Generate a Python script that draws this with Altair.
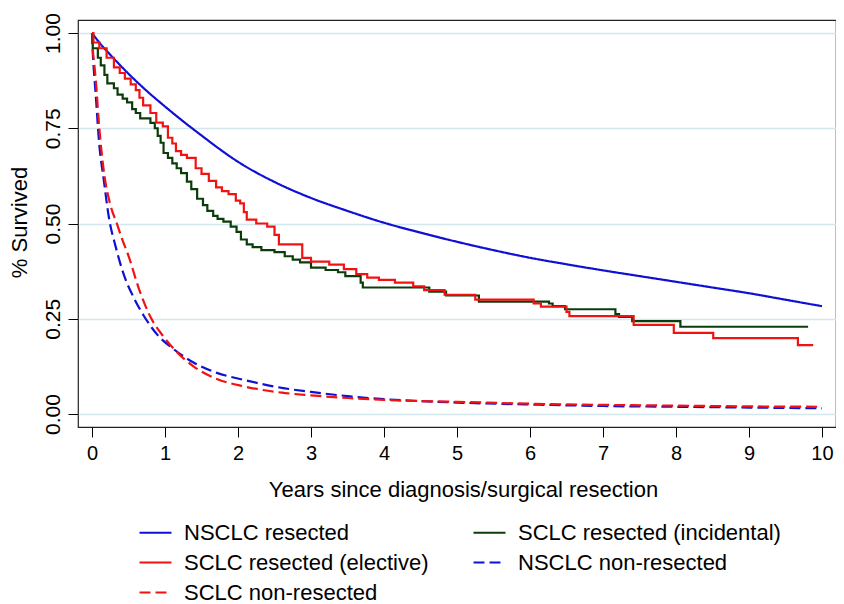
import altair as alt
import pandas as pd

FONT = "Liberation Sans, Arial, sans-serif"

SERIES = ["NSCLC resected", "SCLC resected (incidental)", "SCLC resected (elective)",
          "NSCLC non-resected", "SCLC non-resected"]
COLORS = ["#1010d4", "#0b3d0b", "#f21212", "#1010d4", "#f21212"]
DASHES = [[1, 0], [1, 0], [1, 0], [11, 5], [11, 5]]
# legend is filled column by column: reorder so rows read like the reference
LEGEND_ORDER = [0, 2, 4, 1, 3]

X_TICKS = list(range(0, 11))
Y_TICKS = [0.0, 0.25, 0.5, 0.75, 1.0]

# NSCLC resected (smooth KM)
nsclc_res_t = [0, 0.1, 0.25, 0.5, 0.75, 1.0, 1.25, 1.5, 1.75, 2.0, 2.5, 3.0, 3.5,
               4.0, 4.5, 5.0, 5.5, 6.0, 6.5, 7.0, 7.5, 8.0, 8.5, 9.0, 9.5, 10.0]
nsclc_res_s = [1.0, 0.975, 0.943, 0.893, 0.848, 0.807, 0.768, 0.731, 0.695, 0.662, 0.609,
               0.567, 0.533, 0.502, 0.476, 0.452, 0.43, 0.41, 0.393, 0.377, 0.362, 0.347,
               0.332, 0.317, 0.30, 0.283]

# SCLC resected (incidental) - step
sclc_inc_t = [0, 0.01, 0.08, 0.12, 0.17, 0.21, 0.3, 0.35, 0.42, 0.48, 0.55, 0.6, 0.66, 0.8,
              0.86, 0.9, 0.94, 0.98, 1.04, 1.1, 1.16, 1.22, 1.3, 1.36, 1.44, 1.52, 1.58, 1.66,
              1.72, 1.8, 1.9, 1.98, 2.04, 2.12, 2.2, 2.32, 2.5, 2.64, 2.75, 2.85, 3.0, 3.2,
              3.37, 3.47, 3.68, 3.71, 4.62, 4.85, 5.3, 6.26, 6.31, 6.48, 7.17, 7.22, 7.4,
              8.06, 9.81]
sclc_inc_s = [1.0, 0.96, 0.935, 0.915, 0.89, 0.868, 0.855, 0.838, 0.828, 0.818, 0.8, 0.79,
              0.776, 0.764, 0.75, 0.73, 0.712, 0.685, 0.672, 0.658, 0.645, 0.632, 0.61, 0.59,
              0.565, 0.548, 0.533, 0.52, 0.512, 0.505, 0.492, 0.478, 0.458, 0.445, 0.438,
              0.43, 0.425, 0.414, 0.405, 0.398, 0.384, 0.378, 0.372, 0.362, 0.345, 0.332,
              0.321, 0.311, 0.295, 0.29, 0.283, 0.275, 0.262, 0.255, 0.244, 0.229, 0.229]

# SCLC resected (elective) - step
sclc_ele_t = [0, 0.02, 0.1, 0.2, 0.3, 0.38, 0.45, 0.53, 0.6, 0.65, 0.7, 0.8, 0.88, 0.97,
              1.04, 1.1, 1.15, 1.22, 1.3, 1.42, 1.5, 1.6, 1.7, 1.78, 1.87, 1.97, 2.03, 2.08,
              2.12, 2.25, 2.4, 2.5, 2.56, 2.88, 3.0, 3.25, 3.45, 3.62, 3.77, 3.93, 4.15, 4.4,
              4.55, 4.83, 5.25, 6.05, 6.15, 6.5, 6.54, 7.42, 7.97, 8.51, 9.67, 9.88]
sclc_ele_s = [1.0, 0.975, 0.96, 0.935, 0.91, 0.895, 0.88, 0.865, 0.85, 0.83, 0.81, 0.79,
              0.765, 0.755, 0.725, 0.71, 0.69, 0.68, 0.672, 0.645, 0.63, 0.612, 0.595, 0.585,
              0.577, 0.56, 0.553, 0.53, 0.51, 0.5, 0.492, 0.47, 0.445, 0.41, 0.4, 0.392, 0.38,
              0.367, 0.358, 0.352, 0.345, 0.335, 0.325, 0.313, 0.3, 0.29, 0.282, 0.268, 0.257,
              0.234, 0.213, 0.199, 0.181, 0.181]

# NSCLC non-resected (smooth)
nsclc_non_t = [0, 0.01, 0.03, 0.05, 0.096, 0.164, 0.232, 0.323, 0.437, 0.573, 0.709, 0.891,
               1.12, 1.39, 1.71, 2.07, 2.62, 3.0, 3.5, 4.0, 5.0, 6.0, 7.0, 8.0, 9.0, 10.0]
nsclc_non_s = [1.0, 0.95, 0.89, 0.84, 0.715, 0.61, 0.515, 0.44, 0.365, 0.305, 0.258, 0.209,
               0.17, 0.135, 0.108, 0.09, 0.068, 0.058, 0.047, 0.039, 0.03, 0.025, 0.021, 0.019,
               0.017, 0.015]

# SCLC non-resected (smooth)
sclc_non_t = [0, 0.01, 0.03, 0.05, 0.1, 0.16, 0.25, 0.34, 0.42, 0.5, 0.64, 0.8, 0.98, 1.16,
              1.39, 1.71, 2.07, 2.6, 3.0, 3.5, 4.0, 5.0, 6.0, 7.0, 8.0, 9.0, 10.0]
sclc_non_s = [1.0, 0.96, 0.92, 0.88, 0.75, 0.64, 0.55, 0.5, 0.455, 0.415, 0.33, 0.255, 0.203,
              0.163, 0.125, 0.092, 0.073, 0.056, 0.049, 0.042, 0.037, 0.032, 0.027, 0.024,
              0.022, 0.02, 0.019]


def frame(name, ts, ss):
    return pd.DataFrame({"series": name, "t": ts, "s": ss})


smooth_df = pd.concat([
    frame(SERIES[0], nsclc_res_t, nsclc_res_s),
    frame(SERIES[3], nsclc_non_t, nsclc_non_s),
    frame(SERIES[4], sclc_non_t, sclc_non_s),
], ignore_index=True)

step_df = pd.concat([
    frame(SERIES[1], sclc_inc_t, sclc_inc_s),
    frame(SERIES[2], sclc_ele_t, sclc_ele_s),
], ignore_index=True)

dom = [SERIES[i] for i in LEGEND_ORDER]
col_range = [COLORS[i] for i in LEGEND_ORDER]
dash_range = [DASHES[i] for i in LEGEND_ORDER]

legend = alt.Legend(
    title=None, orient="none", legendX=60, legendY=495, columns=2,
    symbolType="stroke", symbolSize=1024, symbolStrokeWidth=2.2,
    labelFontSize=22, labelFont=FONT, labelColor="black", labelOffset=11,
    labelLimit=400, columnPadding=40, rowPadding=1, padding=0,
)

x_enc = alt.X(
    "t:Q",
    scale=alt.Scale(domain=[-0.192, 10.192], nice=False, zero=False),
    axis=alt.Axis(
        values=X_TICKS, format="d", title="Years since diagnosis/surgical resection",
        grid=False, domain=False, tickSize=10, tickColor="black", tickWidth=1,
        labelFontSize=20, labelFont=FONT, labelColor="black", labelPadding=6,
        titleFontSize=22, titleFont=FONT, titleColor="black", titleFontWeight="normal",
        titleY=62, titleX=385, titleBaseline="middle",
    ),
)
y_enc = alt.Y(
    "s:Q",
    scale=alt.Scale(domain=[-0.0341, 1.0341], nice=False, zero=False),
    axis=alt.Axis(
        values=Y_TICKS, format=".2f", title="% Survived",
        grid=True, gridColor="#d3e7ee", gridWidth=1.5, domain=False,
        tickSize=10, tickColor="black", tickWidth=1,
        labelFontSize=21, labelFont=FONT, labelColor="black", labelAngle=270,
        labelAlign="center", labelBaseline="bottom", labelPadding=5,
        titleFontSize=22, titleFont=FONT, titleColor="black", titleFontWeight="normal",
        titleAngle=270, titleX=-59, titleY=202, titleBaseline="middle", titleAlign="center",
    ),
)
color_enc = alt.Color("series:N", scale=alt.Scale(domain=dom, range=col_range), legend=legend)
dash_enc = alt.StrokeDash("series:N", scale=alt.Scale(domain=dom, range=dash_range), legend=legend)

smooth = alt.Chart(smooth_df).mark_line(interpolate="monotone", strokeWidth=2.2).encode(
    x=x_enc, y=y_enc, color=color_enc, strokeDash=dash_enc
)
steps = alt.Chart(step_df).mark_line(interpolate="step-after", strokeWidth=2.2).encode(
    x=x_enc, y=y_enc, color=color_enc, strokeDash=dash_enc
)

chart = alt.layer(smooth, steps).properties(
    width=758, height=407,
    autosize=alt.AutoSizeParams(type="none"),
    padding={"left": 70, "top": 12, "right": 0, "bottom": 177},
    background="white",
).configure_view(stroke="#222222", strokeWidth=1.2)

chart.save("out.html", embed_options={"renderer": "svg", "actions": False})
